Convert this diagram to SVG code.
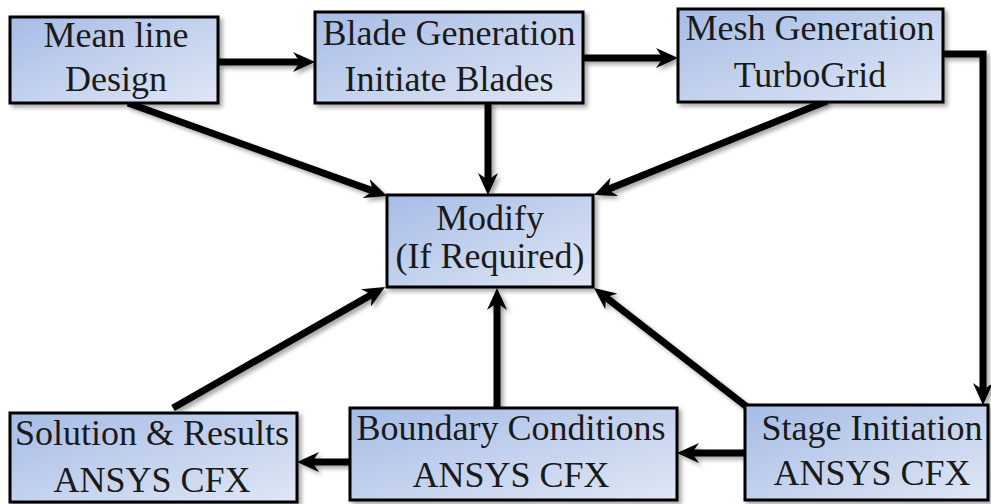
<svg xmlns="http://www.w3.org/2000/svg" width="991" height="504" viewBox="0 0 991 504">
<style>
.box{fill:url(#g);stroke:#000;stroke-width:3;filter:url(#sh)}
.t{font-family:"Liberation Serif","Times New Roman",serif;font-size:36px;fill:#1a1a1a;text-anchor:middle}
.c{fill:none;stroke:#000;stroke-width:7;marker-end:url(#ah);filter:url(#sh)}
</style>
<defs>
<linearGradient id="g" x1="0" y1="0" x2="1" y2="1">
<stop offset="0" stop-color="#a6bce6"/>
<stop offset="1" stop-color="#e0e7f5"/>
</linearGradient>
<filter id="sh" filterUnits="userSpaceOnUse" x="0" y="0" width="991" height="504">
<feDropShadow dx="3" dy="3" stdDeviation="2" flood-color="#000" flood-opacity="0.35"/>
</filter>
<marker id="ah" markerUnits="userSpaceOnUse" viewBox="0 0 22 20" markerWidth="22" markerHeight="20" refX="10" refY="10" orient="auto">
<path d="M0,0 L22,10 L0,20 L7,10 z" fill="#000"/>
</marker>
</defs>
<rect width="991" height="504" fill="#fff"/>
<g id="connectors">
<line class="c" x1="218" y1="62" x2="303" y2="62"/>
<line class="c" x1="583" y1="58" x2="666" y2="58"/>
<polyline class="c" points="943,54 983,54 983,393"/>
<line class="c" x1="128" y1="103" x2="375.7" y2="191.9"/>
<line class="c" x1="488" y1="103" x2="488" y2="183"/>
<line class="c" x1="827" y1="101" x2="605.1" y2="190.5"/>
<line class="c" x1="173" y1="408" x2="374.6" y2="292.9"/>
<line class="c" x1="497" y1="408" x2="497" y2="300"/>
<line class="c" x1="747" y1="407" x2="603.5" y2="295.4"/>
<line class="c" x1="745" y1="453" x2="689" y2="453"/>
<line class="c" x1="350" y1="462" x2="309" y2="462"/>
</g>
<g id="mean-line">
<rect class="box" x="10" y="17" width="208" height="86"/>
<text class="t" x="116" y="47">Mean line</text>
<text class="t" x="116" y="91">Design</text>
</g>
<g id="blade-generation">
<rect class="box" x="315" y="12" width="268" height="91"/>
<text class="t" x="449" y="45">Blade Generation</text>
<text class="t" x="449" y="91">Initiate Blades</text>
</g>
<g id="mesh-generation">
<rect class="box" x="678" y="9" width="265" height="93"/>
<text class="t" x="810" y="40">Mesh Generation</text>
<text class="t" x="810" y="87">TurboGrid</text>
</g>
<g id="modify">
<rect class="box" x="387" y="195" width="206" height="92"/>
<text class="t" x="490" y="230">Modify</text>
<text class="t" x="490" y="268">(If Required)</text>
</g>
<g id="solution">
<rect class="box" x="10" y="413" width="287" height="89"/>
<text class="t" x="152" y="445">Solution &amp; Results</text>
<text class="t" x="152" y="492">ANSYS CFX</text>
</g>
<g id="boundary">
<rect class="box" x="350" y="408" width="327" height="92"/>
<text class="t" x="511" y="440">Boundary Conditions</text>
<text class="t" x="511" y="487">ANSYS CFX</text>
</g>
<g id="stage">
<rect class="box" x="745" y="405" width="243" height="95"/>
<text class="t" x="872" y="440">Stage Initiation</text>
<text class="t" x="872" y="485">ANSYS CFX</text>
</g>
</svg>
